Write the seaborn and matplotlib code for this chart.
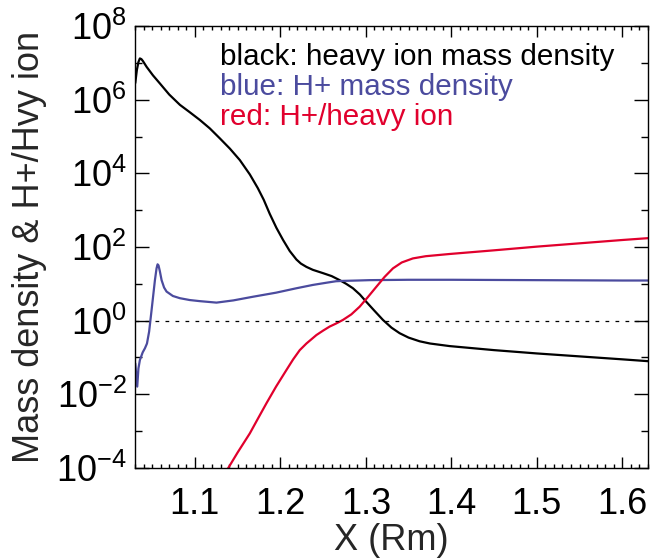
import numpy as np
import pandas as pd
import seaborn as sns
from matplotlib import pyplot as plt
from matplotlib.ticker import MultipleLocator, NullFormatter

# values, y stored as log10
heavy_x = [1.0303, 1.0322, 1.0340, 1.0357, 1.0375, 1.0392, 1.0436, 1.0510, 1.0591,
           1.0700, 1.0825, 1.0940, 1.1058, 1.1175, 1.1292, 1.1410, 1.1526, 1.1643,
           1.1736, 1.1806, 1.1876, 1.1954, 1.2032, 1.2110, 1.2188, 1.2240, 1.2305,
           1.2380, 1.2499, 1.2600, 1.2694, 1.2770, 1.2849, 1.2930, 1.3006, 1.3100,
           1.3200, 1.3300, 1.3395, 1.3500, 1.3629, 1.3750, 1.3979, 1.45, 1.50,
           1.55, 1.60, 1.63]
heavy_log = [6.45, 6.81, 7.02, 7.12, 7.10, 7.05, 6.89, 6.66, 6.44,
             6.14, 5.86, 5.66, 5.45, 5.22, 4.95, 4.67, 4.36, 3.97,
             3.60, 3.28, 2.90, 2.52, 2.19, 1.89, 1.66, 1.55, 1.46,
             1.38, 1.29, 1.21, 1.10, 1.00, 0.88, 0.71, 0.51, 0.27,
             0.02, -0.19, -0.34, -0.46, -0.56, -0.62, -0.69, -0.80, -0.89,
             -0.97, -1.05, -1.10]

hplus_x = [1.0303, 1.0326, 1.0340, 1.0357, 1.0390, 1.0416, 1.0440, 1.0465, 1.0494,
           1.0533, 1.0552, 1.0564, 1.0575, 1.0590, 1.0611, 1.0640, 1.0669, 1.0743,
           1.0825, 1.0940, 1.1058, 1.1253, 1.1450, 1.1681, 1.1950, 1.2188, 1.2380,
           1.2539, 1.2650, 1.2733, 1.2900, 1.3044, 1.35, 1.40, 1.50, 1.60, 1.63]
hplus_log = [-1.16, -1.79, -1.30, -1.07, -0.86, -0.75, -0.62, -0.30, 0.29,
             1.10, 1.42, 1.53, 1.50, 1.35, 1.10, 0.90, 0.79, 0.67,
             0.61, 0.56, 0.53, 0.49, 0.55, 0.65, 0.76, 0.88, 0.97,
             1.03, 1.07, 1.08, 1.09, 1.10, 1.11, 1.11, 1.10, 1.09, 1.09]

ratio_x = [1.1370, 1.1500, 1.1643, 1.1740, 1.1838, 1.1950, 1.2071, 1.2150, 1.2227,
           1.2305, 1.2422, 1.2500, 1.2577, 1.2650, 1.2732, 1.2830, 1.2928, 1.3020,
           1.3123, 1.3220, 1.3317, 1.3420, 1.3550, 1.3700, 1.3979, 1.45, 1.50,
           1.55, 1.60, 1.63]
ratio_log = [-4.08, -3.58, -3.06, -2.65, -2.24, -1.79, -1.34, -1.05, -0.80,
             -0.62, -0.39, -0.27, -0.16, -0.08, 0.02, 0.17, 0.38, 0.63,
             0.92, 1.19, 1.42, 1.58, 1.69, 1.75, 1.81, 1.91, 2.01,
             2.10, 2.19, 2.24]

labels = ["black: heavy ion mass density", "blue: H+ mass density", "red: H+/heavy ion"]
colors = ["black", "#4b4b9e", "#e1002d"]

sns.set_theme(style="ticks")
plt.rcParams["font.family"] = ["Liberation Sans", "DejaVu Sans"]
plt.rcParams["mathtext.fontset"] = "custom"
plt.rcParams["mathtext.rm"] = "Liberation Sans"
plt.rcParams["mathtext.it"] = "Liberation Sans:italic"
plt.rcParams["axes.unicode_minus"] = False

fig = plt.figure(figsize=(6.5, 5.58), dpi=100)
ax = fig.add_axes([0.2077, 0.1613, 0.7892, 0.7921])

series = [(heavy_x, heavy_log), (hplus_x, hplus_log), (ratio_x, ratio_log)]
for (xs, ls), c in zip(series, colors):
    df = pd.DataFrame({"x": xs, "y": np.power(10.0, ls)})
    sns.lineplot(data=df, x="x", y="y", color=c, lw=1.6, sort=False,
                 estimator=None, ax=ax)

ax.axhline(1.0, color="black", lw=0.9, ls=(0, (3, 5)))

ax.set_yscale("log")
ax.set_xlim(1.03, 1.63)
ax.set_ylim(1e-4, 1e8)
ax.set_yticks([10.0 ** e for e in range(-4, 9, 2)])
ax.set_yticks([10.0 ** e for e in range(-3, 8, 2)], minor=True)
ax.yaxis.set_minor_formatter(NullFormatter())
ax.set_xticks([1.1, 1.2, 1.3, 1.4, 1.5, 1.6])
ax.xaxis.set_minor_locator(MultipleLocator(0.01))

ax.tick_params(axis="both", which="both", direction="in", top=True, right=True,
               colors="black", labelsize=26)
ax.tick_params(axis="x", which="major", length=8, width=1, pad=14)
ax.tick_params(axis="x", which="minor", length=3, width=1)
ax.tick_params(axis="y", which="major", length=10, width=1, pad=6)
ax.tick_params(axis="y", which="minor", length=5, width=1)
for s in ax.spines.values():
    s.set_color("black")
    s.set_linewidth(1.0)

ax.set_xlabel("X (Rm)", fontsize=26)
ax.set_ylabel("Mass density & H+/Hvy ion", fontsize=26)
ax.xaxis.set_label_coords(0.5, -0.125)
ax.yaxis.set_label_coords(-0.172, 0.5)

for i, (t, c) in enumerate(zip(labels, colors)):
    ax.text(0.166, 0.912 - i * 0.068, t, color=c, fontsize=21.3,
            transform=ax.transAxes, ha="left", va="baseline")

fig.savefig("out.png", dpi=100)
